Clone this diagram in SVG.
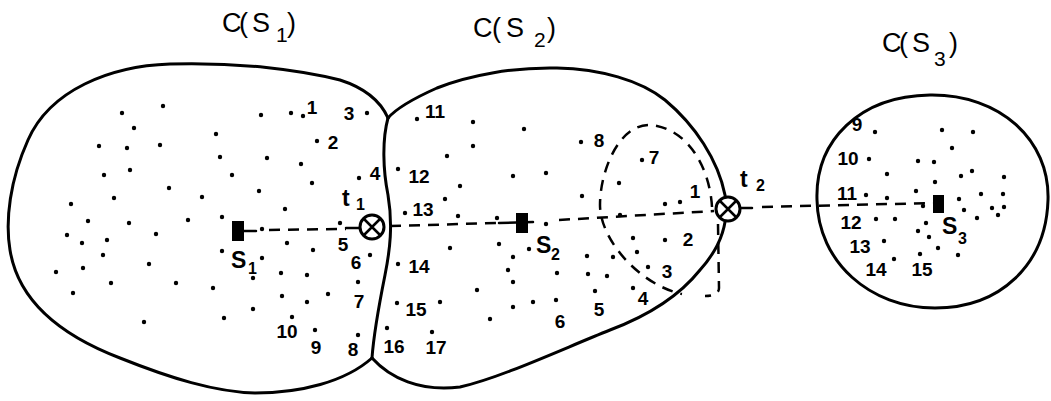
<svg xmlns="http://www.w3.org/2000/svg" width="1051" height="401" viewBox="0 0 1051 401">
<style>
.outline{fill:none;stroke:#000;stroke-width:3;stroke-linecap:round;stroke-linejoin:round}
.dash{fill:none;stroke:#000;stroke-width:2.5;stroke-dasharray:11 8}
.solid{fill:none;stroke:#000;stroke-width:2.5;stroke-linecap:round}
.dots circle{fill:#000}
.num{font-family:"Liberation Sans",Arial,sans-serif;font-weight:bold;font-size:19px;text-anchor:middle;fill:#000}
.title{font-family:"Liberation Sans",Arial,sans-serif;font-size:27px;fill:#000}
.tsub{font-family:"Liberation Sans",Arial,sans-serif;font-size:21px;fill:#000}
.lab{font-family:"Liberation Sans",Arial,sans-serif;font-weight:bold;font-size:23px;fill:#000}
.sub{font-family:"Liberation Sans",Arial,sans-serif;font-weight:bold;font-size:16px;fill:#000}
.tcirc{fill:#fff;stroke:#000;stroke-width:3}
.tx{stroke:#000;stroke-width:2.5}
</style>
<rect x="0" y="0" width="1051" height="401" fill="#fff"/>

<g id="region-CS1">
<path class="outline" d="M 388,118 C 380,100 365,88 340,80 C 300,70 240,62 170,64 C 110,66 50,90 28,140 C 10,180 5,220 10,250 C 18,300 60,335 120,358 C 170,378 215,392 255,393 C 300,393 345,382 372,358"/>
<text class="title" x="222 239 252" y="32">C(S</text><text class="tsub" x="276" y="42">1</text><text class="title" x="287" y="32">)</text>
<g class="dots">
<circle cx="122" cy="113" r="2.2"/><circle cx="163" cy="106" r="2.2"/><circle cx="134" cy="128" r="2.2"/><circle cx="99" cy="146" r="2.2"/><circle cx="127" cy="148" r="2.2"/><circle cx="160" cy="145" r="2.2"/><circle cx="104" cy="175" r="2.2"/><circle cx="130" cy="170" r="2.2"/><circle cx="169" cy="188" r="2.2"/><circle cx="202" cy="197" r="2.2"/><circle cx="114" cy="198" r="2.2"/><circle cx="71" cy="204" r="2.2"/><circle cx="88" cy="221" r="2.2"/><circle cx="129" cy="223" r="2.2"/><circle cx="188" cy="220" r="2.2"/><circle cx="222" cy="217" r="2.2"/><circle cx="67" cy="235" r="2.2"/><circle cx="82" cy="243" r="2.2"/><circle cx="107" cy="240" r="2.2"/><circle cx="156" cy="234" r="2.2"/><circle cx="103" cy="255" r="2.2"/><circle cx="222" cy="251" r="2.2"/><circle cx="56" cy="272" r="2.2"/><circle cx="83" cy="268" r="2.2"/><circle cx="149" cy="264" r="2.2"/><circle cx="111" cy="283" r="2.2"/><circle cx="176" cy="283" r="2.2"/><circle cx="213" cy="288" r="2.2"/><circle cx="73" cy="293" r="2.2"/><circle cx="144" cy="322" r="2.2"/><circle cx="224" cy="318" r="2.2"/><circle cx="253" cy="309" r="2.2"/><circle cx="282" cy="296" r="2.2"/><circle cx="307" cy="302" r="2.2"/><circle cx="328" cy="294" r="2.2"/><circle cx="253" cy="278" r="2.2"/><circle cx="281" cy="273" r="2.2"/><circle cx="307" cy="275" r="2.2"/><circle cx="262" cy="258" r="2.2"/><circle cx="287" cy="243" r="2.2"/><circle cx="313" cy="250" r="2.2"/><circle cx="262" cy="229" r="2.2"/><circle cx="340" cy="223" r="2.2"/><circle cx="285" cy="209" r="2.2"/><circle cx="259" cy="191" r="2.2"/><circle cx="312" cy="183" r="2.2"/><circle cx="301" cy="164" r="2.2"/><circle cx="267" cy="158" r="2.2"/><circle cx="232" cy="175" r="2.2"/><circle cx="220" cy="157" r="2.2"/><circle cx="216" cy="134" r="2.2"/><circle cx="261" cy="115" r="2.2"/><circle cx="291" cy="113" r="2.2"/><circle cx="303" cy="116" r="2.2"/><circle cx="367" cy="113" r="2.2"/><circle cx="317" cy="141" r="2.2"/><circle cx="359" cy="178" r="2.2"/><circle cx="370" cy="255" r="2.2"/><circle cx="358" cy="282" r="2.2"/><circle cx="292" cy="317" r="2.2"/><circle cx="315" cy="330" r="2.2"/><circle cx="358" cy="335" r="2.2"/>
</g>
<text class="num" x="312" y="114">1</text>
<text class="num" x="349" y="120">3</text>
<text class="num" x="333" y="149">2</text>
<text class="num" x="375" y="180">4</text>
<text class="num" x="343" y="251">5</text>
<text class="num" x="356" y="269">6</text>
<text class="num" x="359" y="308">7</text>
<text class="num" x="287" y="338">10</text>
<text class="num" x="316" y="354">9</text>
<text class="num" x="353" y="356">8</text>
</g>

<g id="region-CS2">
<path class="outline" d="M 388,118 C 395,110 410,100 437,88 C 470,75 515,67 557,68 C 600,69 640,80 665,100 C 695,125 718,160 725,195 C 730,225 718,250 700,270 C 680,295 650,315 610,330 C 560,350 500,378 460,387 C 420,392 390,378 372,358"/>
<path class="outline" d="M 388,118 C 382,140 383,170 388,195 C 393,225 390,250 385,275 C 380,300 374,330 372,358"/>
<text class="title" x="473 492 506" y="37">C(S</text><text class="tsub" x="534" y="47">2</text><text class="title" x="547" y="37">)</text>
<g class="dots">
<circle cx="417" cy="119" r="2.2"/><circle cx="473" cy="122" r="2.2"/><circle cx="524" cy="129" r="2.2"/><circle cx="473" cy="146" r="2.2"/><circle cx="447" cy="156" r="2.2"/><circle cx="581" cy="142" r="2.2"/><circle cx="398" cy="169" r="2.2"/><circle cx="513" cy="176" r="2.2"/><circle cx="546" cy="173" r="2.2"/><circle cx="460" cy="186" r="2.2"/><circle cx="445" cy="199" r="2.2"/><circle cx="405" cy="213" r="2.2"/><circle cx="458" cy="216" r="2.2"/><circle cx="497" cy="218" r="2.2"/><circle cx="546" cy="224" r="2.2"/><circle cx="450" cy="248" r="2.2"/><circle cx="499" cy="244" r="2.2"/><circle cx="529" cy="249" r="2.2"/><circle cx="513" cy="257" r="2.2"/><circle cx="508" cy="270" r="2.2"/><circle cx="513" cy="282" r="2.2"/><circle cx="398" cy="264" r="2.2"/><circle cx="477" cy="290" r="2.2"/><circle cx="397" cy="303" r="2.2"/><circle cx="440" cy="302" r="2.2"/><circle cx="513" cy="307" r="2.2"/><circle cx="533" cy="302" r="2.2"/><circle cx="556" cy="300" r="2.2"/><circle cx="490" cy="319" r="2.2"/><circle cx="587" cy="256" r="2.2"/><circle cx="613" cy="257" r="2.2"/><circle cx="588" cy="274" r="2.2"/><circle cx="607" cy="276" r="2.2"/><circle cx="595" cy="291" r="2.2"/><circle cx="633" cy="288" r="2.2"/><circle cx="557" cy="273" r="2.2"/><circle cx="387" cy="328" r="2.2"/><circle cx="432" cy="332" r="2.2"/><circle cx="582" cy="196" r="2.2"/><circle cx="619" cy="183" r="2.2"/><circle cx="620" cy="215" r="2.2"/><circle cx="642" cy="160" r="2.2"/><circle cx="665" cy="204" r="2.2"/><circle cx="680" cy="202" r="2.2"/><circle cx="633" cy="238" r="2.2"/><circle cx="665" cy="240" r="2.2"/><circle cx="637" cy="252" r="2.2"/><circle cx="648" cy="267" r="2.2"/>
</g>
<text class="num" x="435" y="118">11</text>
<text class="num" x="419" y="183">12</text>
<text class="num" x="423" y="216">13</text>
<text class="num" x="419" y="273">14</text>
<text class="num" x="416" y="316">15</text>
<text class="num" x="394" y="353">16</text>
<text class="num" x="436" y="354">17</text>
<text class="num" x="599" y="147">8</text>
<text class="num" x="654" y="164">7</text>
<text class="num" x="695" y="198">1</text>
<text class="num" x="688" y="246">2</text>
<text class="num" x="667" y="278">3</text>
<text class="num" x="643" y="305">4</text>
<text class="num" x="599" y="316">5</text>
<text class="num" x="560" y="328">6</text>
<path class="dash" d="M 712,207 C 710,170 690,130 652,125 C 620,122 600,170 600,205 C 600,240 640,285 682,294"/>
<path class="dash" d="M 718,224 L 719,288 Q 719,296 705,296"/>
</g>

<g id="region-CS3">
<path class="outline" d="M 817,200 C 815,140 860,96 930,95 C 1000,94 1050,140 1048,200 C 1046,265 1000,308 935,308 C 870,308 818,262 817,200 Z"/>
<text class="title" x="882 899 912" y="52">C(S</text><text class="tsub" x="934" y="66">3</text><text class="title" x="949" y="52">)</text>
<g class="dots">
<circle cx="875" cy="132" r="2.2"/><circle cx="942" cy="130" r="2.2"/><circle cx="973" cy="132" r="2.2"/><circle cx="952" cy="148" r="2.2"/><circle cx="869" cy="159" r="2.2"/><circle cx="918" cy="161" r="2.2"/><circle cx="934" cy="162" r="2.2"/><circle cx="887" cy="174" r="2.2"/><circle cx="961" cy="176" r="2.2"/><circle cx="972" cy="171" r="2.2"/><circle cx="1004" cy="177" r="2.2"/><circle cx="935" cy="182" r="2.2"/><circle cx="866" cy="195" r="2.2"/><circle cx="887" cy="198" r="2.2"/><circle cx="916" cy="191" r="2.2"/><circle cx="959" cy="199" r="2.2"/><circle cx="981" cy="194" r="2.2"/><circle cx="1003" cy="194" r="2.2"/><circle cx="923" cy="206" r="2.2"/><circle cx="964" cy="210" r="2.2"/><circle cx="992" cy="208" r="2.2"/><circle cx="1004" cy="207" r="2.2"/><circle cx="998" cy="215" r="2.2"/><circle cx="977" cy="218" r="2.2"/><circle cx="876" cy="219" r="2.2"/><circle cx="895" cy="219" r="2.2"/><circle cx="926" cy="223" r="2.2"/><circle cx="918" cy="231" r="2.2"/><circle cx="929" cy="237" r="2.2"/><circle cx="938" cy="248" r="2.2"/><circle cx="884" cy="241" r="2.2"/><circle cx="920" cy="254" r="2.2"/><circle cx="958" cy="255" r="2.2"/><circle cx="894" cy="259" r="2.2"/>
</g>
<text class="num" x="857" y="131">9</text>
<text class="num" x="848" y="165">10</text>
<text class="num" x="847" y="200">11</text>
<text class="num" x="851" y="229">12</text>
<text class="num" x="860" y="253">13</text>
<text class="num" x="876" y="276">14</text>
<text class="num" x="922" y="276">15</text>
</g>

<g id="connectors">
<path class="solid" d="M 244,231 L 256,231"/>
<path class="dash" d="M 269,230 L 346,229"/>
<path class="solid" d="M 346,228 L 360,228"/>
<path class="dash" d="M 390,226 L 497,223"/>
<path class="solid" d="M 499,223 L 533,222"/>
<path class="dash" d="M 559,220 L 714,211"/>
<path class="solid" d="M 740,208 L 752,208"/>
<path class="dash" d="M 762,207 L 933,203"/>
</g>

<g id="node-S1">
<rect x="232" y="221" width="12" height="20" fill="#000"/>
<text class="lab" x="231" y="268">S</text><text class="sub" x="248" y="274">1</text>
</g>
<g id="node-S2">
<rect x="516" y="213" width="12" height="20" fill="#000"/>
<text class="lab" x="536" y="253">S</text><text class="sub" x="551" y="260">2</text>
</g>
<g id="node-S3">
<rect x="933" y="195" width="11" height="18" fill="#000"/>
<text class="lab" x="942" y="234">S</text><text class="sub" x="958" y="244">3</text>
</g>
<g id="node-t1">
<circle class="tcirc" cx="372" cy="227" r="12"/>
<path class="tx" d="M 363.5,218.5 L 380.5,235.5 M 380.5,218.5 L 363.5,235.5"/>
<text class="lab" x="342" y="206">t</text><text class="sub" x="356" y="210">1</text>
</g>
<g id="node-t2">
<circle class="tcirc" cx="728" cy="209" r="12"/>
<path class="tx" d="M 719.5,200.5 L 736.5,217.5 M 736.5,200.5 L 719.5,217.5"/>
<text class="lab" x="740" y="187">t</text><text class="sub" x="756" y="191">2</text>
</g>
</svg>
